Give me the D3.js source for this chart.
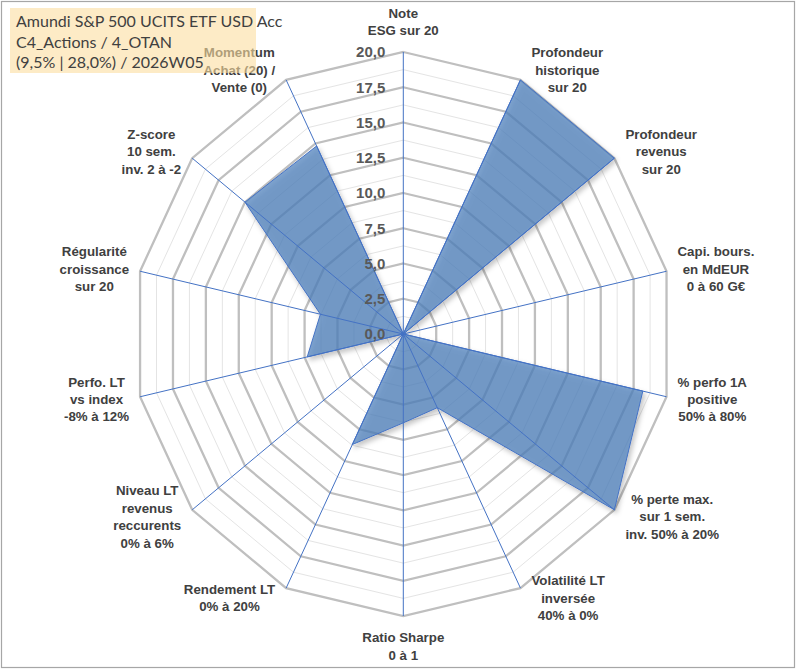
<!DOCTYPE html>
<html>
<head>
<meta charset="utf-8">
<script src="https://cdn.jsdelivr.net/npm/d3@7"></script>
<style>
  body { margin:0; background:#fff; }
  svg { display:block; }
</style>
</head>
<body>
<svg></svg>
<script>
// axis labels, clockwise from the top
var axisLabels = [
  ["Note", "ESG sur 20"],
  ["Profondeur", "historique", "sur 20"],
  ["Profondeur", "revenus", "sur 20"],
  ["Capi. bours.", "en MdEUR", "0 à 60 G€"],
  ["% perfo 1A", "positive", "50% à 80%"],
  ["% perte max.", "sur 1 sem.", "inv. 50% à 20%"],
  ["Volatilité LT", "inversée", "40% à 0%"],
  ["Ratio Sharpe", "0 à 1"],
  ["Rendement LT", "0% à 20%"],
  ["Niveau LT", "revenus", "reccurents", "0% à 6%"],
  ["Perfo. LT", "vs index", "-8% à 12%"],
  ["Régularité", "croissance", "sur 20"],
  ["Z-score", "10 sem.", "inv. 2 à -2"],
  ["Momentum", "Achat (20) /", "Vente (0)"]
];

// scores out of 20
var scores = [0, 20, 20, 0, 18.2, 20, 5.8, 6.3, 8.7, 0, 7.3, 6.3, 15.0, 14.8];

var ringValues = [0, 2.5, 5, 7.5, 10, 12.5, 15, 17.5, 20];
var ringLabels = ["0,0", "2,5", "5,0", "7,5", "10,0", "12,5", "15,0", "17,5", "20,0"];
var minorValues = [1.25, 3.75, 6.25, 8.75, 11.25, 13.75, 16.25, 18.75];

var titleLines = [
  "Amundi S&P 500 UCITS ETF USD Acc",
  "C4_Actions / 4_OTAN",
  "(9,5% | 28,0%) / 2026W05"
];

var drawRadar = function() {
  var screen = { width:801, height:671 };
  var center = { x:403.3, y:334 };

  var svg = d3.select("svg")
              .attr("width", screen.width)
              .attr("height", screen.height);

  var defs = svg.append("defs");
  var shadow = defs.append("filter")
                   .attr("id", "shadow")
                   .attr("x", "-10%").attr("y", "-10%")
                   .attr("width", "130%").attr("height", "130%");
  shadow.append("feDropShadow")
        .attr("dx", 2).attr("dy", 3)
        .attr("stdDeviation", 2.5)
        .attr("flood-color", "#000")
        .attr("flood-opacity", 0.3);

  // chart frame
  svg.append("rect")
     .attr("x", 1.5).attr("y", 1.5)
     .attr("width", 793).attr("height", 666)
     .attr("fill", "#fff")
     .attr("stroke", "#a6a6a6")
     .attr("stroke-width", 1.2);

  var n = axisLabels.length;
  var angle = d3.scaleLinear().domain([0, n]).range([0, 2 * Math.PI]);
  // the plot area is slightly wider than tall
  var rX = d3.scaleLinear().domain([0, 20]).range([0, 270]);
  var rY = d3.scaleLinear().domain([0, 20]).range([0, 282]);

  var point = function(i, v) {
    var a = angle(i);
    return [center.x + rX(v) * Math.sin(a), center.y - rY(v) * Math.cos(a)];
  };

  var closedLine = d3.line().curve(d3.curveLinearClosed);
  var ring = function(v) {
    return closedLine(d3.range(n).map(function(i){ return point(i, v); }));
  };

  var grid = svg.append("g").classed("grid", true);

  grid.selectAll("path.minor")
      .data(minorValues)
      .enter()
      .append("path")
      .classed("minor", true)
      .attr("d", ring)
      .attr("fill", "none")
      .attr("stroke", "#e4e4e4")
      .attr("stroke-width", 1);

  grid.selectAll("path.major")
      .data(ringValues.slice(1))
      .enter()
      .append("path")
      .classed("major", true)
      .attr("d", ring)
      .attr("fill", "none")
      .attr("stroke", "#bfbfbf")
      .attr("stroke-width", 2.3);

  // series
  svg.append("path")
     .datum(scores)
     .attr("d", closedLine(scores.map(function(v, i){ return point(i, v); })))
     .attr("fill", "#4f81bd")
     .attr("fill-opacity", 0.72)
     .attr("stroke", "#4472c4")
     .attr("stroke-width", 1)
     .attr("filter", "url(#shadow)");

  // spokes
  svg.append("g")
     .selectAll("line")
     .data(d3.range(n))
     .enter()
     .append("line")
     .attr("x1", center.x)
     .attr("y1", center.y)
     .attr("x2", function(i){ return point(i, 20)[0]; })
     .attr("y2", function(i){ return point(i, 20)[1]; })
     .attr("stroke", "#4472c4")
     .attr("stroke-width", 1);

  // value labels along the top axis
  svg.append("g")
     .selectAll("text")
     .data(ringValues)
     .enter()
     .append("text")
     .attr("x", center.x - 18)
     .attr("y", function(v){ return center.y - rY(v); })
     .attr("dy", "0.36em")
     .attr("text-anchor", "end")
     .attr("font-family", "Liberation Sans, Arial, sans-serif")
     .attr("font-weight", "bold")
     .attr("font-size", "15px")
     .attr("fill", "#595959")
     .text(function(v, i){ return ringLabels[i]; });

  // category labels
  var lineH = 17.4;
  var labels = svg.append("g")
                  .selectAll("text")
                  .data(axisLabels)
                  .enter()
                  .append("text")
                  .attr("text-anchor", "middle")
                  .attr("font-family", "Liberation Sans, Arial, sans-serif")
                  .attr("font-weight", "bold")
                  .attr("font-size", "13.3px")
                  .attr("fill", "#404040");

  labels.each(function(lines, i) {
    var t = d3.select(this);
    var w = 0;
    lines.forEach(function(s) {
      var span = t.append("tspan").text(s);
      w = Math.max(w, span.node().getComputedTextLength());
    });
    var h = lines.length * lineH;
    var a = angle(i);
    var sn = Math.sin(a), cs = Math.cos(a);
    var p = point(i, 20);
    var cx, cy;
    if (Math.abs(sn) < 0.01) {
      cx = p[0];
      cy = p[1] - cs * (h / 2 + 13);
    } else {
      cx = p[0] + (sn > 0 ? 1 : -1) * (w / 2 + 11);
      cy = p[1] - cs * 11;
    }
    t.selectAll("tspan")
     .attr("x", cx)
     .attr("y", function(d, k){ return cy - h / 2 + lineH * (k + 0.5); })
     .attr("dy", "0.36em");
  });

  // title box, drawn over the chart
  svg.append("rect")
     .attr("x", 10).attr("y", 8)
     .attr("width", 246).attr("height", 65)
     .attr("fill", "rgb(252,222,160)")
     .attr("fill-opacity", 0.6);

  svg.append("g")
     .selectAll("text")
     .data(titleLines)
     .enter()
     .append("text")
     .attr("x", 16)
     .attr("y", function(d, i){ return 21.7 + i * 20.5; })
     .attr("dy", "0.36em")
     .attr("font-family", "Lato, sans-serif")
     .attr("font-size", "16px")
     .attr("fill", "#404040")
     .text(function(d){ return d; });
};

drawRadar();
</script>
</body>
</html>
